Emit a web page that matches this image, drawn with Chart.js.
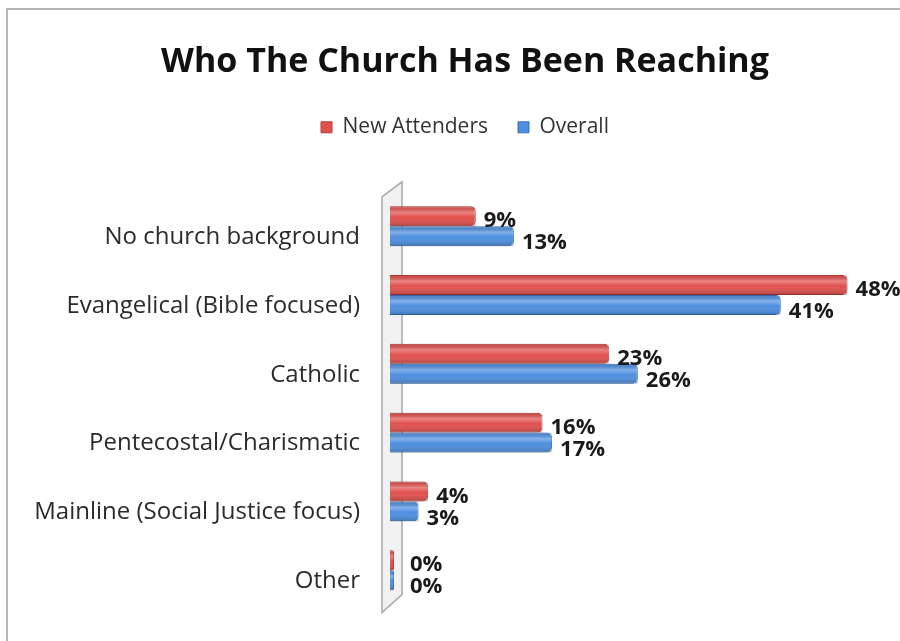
<!DOCTYPE html>
<html>
<head>
<meta charset="utf-8">
<script src="https://cdn.jsdelivr.net/npm/chart.js@4/dist/chart.umd.min.js"></script>
<style>
  html, body { margin: 0; padding: 0; background: #fff; }
  #wrap { width: 900px; height: 641px; }
</style>
</head>
<body>
<div id="wrap"><canvas id="church"></canvas></div>
<script>
// data
var categories = ['No church background', 'Evangelical (Bible focused)', 'Catholic',
                  'Pentecostal/Charismatic', 'Mainline (Social Justice focus)', 'Other'];
var newAttenders = [9, 48, 23, 16, 4, 0];
var overall = [13, 41, 26, 17, 3, 0];

var RED = '#e0514e';
var BLUE = '#4f8fe0';

// gray frame + the little 3D "wall" left of the bars
var decorPlugin = {
  id: 'decor',
  beforeDraw: function(chart) {
    var ctx = chart.ctx;
    ctx.save();
    ctx.strokeStyle = '#b4b4b4';
    ctx.lineWidth = 2;
    ctx.strokeRect(7, 9, 1000, 1000);
    ctx.restore();
  },
  beforeDatasetsDraw: function(chart) {
    var ctx = chart.ctx, a = chart.chartArea;
    var l = a.left;
    ctx.save();
    ctx.beginPath();
    ctx.moveTo(l - 8, a.top + 5);
    ctx.lineTo(l + 12, a.top - 10);
    ctx.lineTo(l + 12, a.bottom - 10);
    ctx.lineTo(l - 8, a.bottom + 8);
    ctx.closePath();
    ctx.fillStyle = '#f1f1f1';
    ctx.fill();
    ctx.strokeStyle = '#a8a8a8';
    ctx.lineWidth = 1.5;
    ctx.stroke();
    ctx.restore();
  }
};

// cylinder shading over the bars, then the bold percent labels
var labelPlugin = {
  id: 'pctLabels',
  afterDatasetsDraw: function(chart) {
    var ctx = chart.ctx;
    ctx.save();
    chart.data.datasets.forEach(function(ds, di) {
      chart.getDatasetMeta(di).data.forEach(function(bar) {
        var top = bar.y - bar.height / 2;
        var g = ctx.createLinearGradient(0, top, 0, top + bar.height);
        g.addColorStop(0, 'rgba(0,0,0,0.08)');
        g.addColorStop(0.3, 'rgba(255,255,255,0.3)');
        g.addColorStop(0.55, 'rgba(255,255,255,0)');
        g.addColorStop(1, 'rgba(0,0,0,0.22)');
        ctx.fillStyle = g;
        ctx.fillRect(bar.base, top, bar.x - bar.base, bar.height);
      });
    });
    ctx.font = 'bold 22px "Open Sans"';
    ctx.fillStyle = '#1a1a1a';
    ctx.textBaseline = 'middle';
    ctx.textAlign = 'left';
    chart.data.datasets.forEach(function(ds, di) {
      chart.getDatasetMeta(di).data.forEach(function(bar, i) {
        var x = bar.x + 8;
        if (ds.data[i] === 0) x = chart.chartArea.left + 20;
        var y = bar.y + (di === 0 ? 5 : 7);
        ctx.fillText(ds.data[i] + '%', x, y);
      });
    });
    ctx.restore();
  }
};

// extra gap under the legend
var legendGap = {
  id: 'legendGap',
  beforeInit: function(chart) {
    var fit = chart.legend.fit;
    chart.legend.fit = function() {
      fit.bind(chart.legend)();
      this.height += 44;
    };
  }
};

var chart = new Chart('church', {
  type: 'bar',
  data: {
    labels: categories,
    datasets: [{
      label: 'New Attenders',
      data: newAttenders,
      backgroundColor: RED,
      borderColor: '#b83a37',
      borderWidth: 1,
      borderRadius: { topRight: 5, bottomRight: 5 },
      borderSkipped: 'left',
      minBarLength: 4
    }, {
      label: 'Overall',
      data: overall,
      backgroundColor: BLUE,
      borderColor: '#346fbc',
      borderWidth: 1,
      borderRadius: { topRight: 5, bottomRight: 5 },
      borderSkipped: 'left',
      minBarLength: 4
    }]
  },
  options: {
    indexAxis: 'y',
    responsive: true,
    maintainAspectRatio: false,
    animation: false,
    categoryPercentage: 0.58,
    barPercentage: 1,
    layout: { padding: { left: 30, right: 0, top: 0, bottom: 28 } },
    scales: {
      x: { display: false, min: 0, max: 53.5 },
      y: {
        grid: { display: false },
        border: { display: false },
        ticks: {
          color: '#2b2b2b',
          padding: 22,
          labelOffset: 11,
          font: { family: 'Open Sans', size: 24 }
        },
        afterFit: function(s) { s.width = 360; }
      }
    },
    plugins: {
      title: {
        display: true,
        text: 'Who The Church Has Been Reaching',
        color: '#111',
        font: { family: 'Open Sans', size: 34, weight: 'bold' },
        padding: { top: 42, bottom: 4 }
      },
      legend: {
        position: 'top',
        labels: {
          boxWidth: 11,
          boxHeight: 11,
          padding: 30,
          color: '#333',
          font: { family: 'Open Sans', size: 21 }
        }
      },
      tooltip: { enabled: false }
    }
  },
  plugins: [decorPlugin, labelPlugin, legendGap]
});
</script>
</body>
</html>
